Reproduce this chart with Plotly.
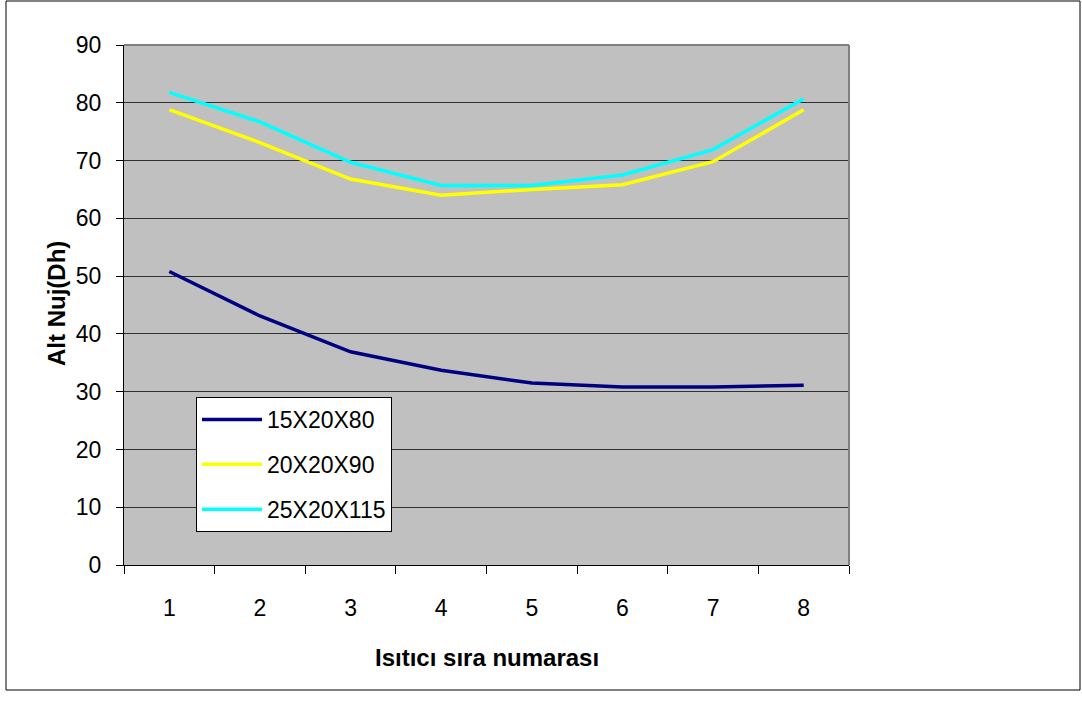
import plotly.graph_objects as go

categories = [1, 2, 3, 4, 5, 6, 7, 8]
s1_name = "15X20X80"
s1 = [50.8, 43.1, 36.9, 33.7, 31.5, 30.8, 30.8, 31.1]
s2_name = "20X20X90"
s2 = [78.8, 73.1, 66.8, 64.0, 65.0, 65.8, 69.8, 78.8]
s3_name = "25X20X115"
s3 = [81.8, 76.7, 69.7, 65.7, 65.7, 67.5, 71.9, 80.7]
y_ticks = [0, 10, 20, 30, 40, 50, 60, 70, 80, 90]

fig = go.Figure()
for name, vals, col in [(s1_name, s1, "#000080"), (s2_name, s2, "#FFFF00"), (s3_name, s3, "#00FFFF")]:
    fig.add_trace(go.Scatter(x=categories, y=vals, mode="lines", name=name,
                             legendgroup=name,
                             line=dict(color=col, width=3.5)))

font = "Liberation Sans, Arial, sans-serif"
L, R, T, B = 124, 233, 45, 137
W, H = 1082, 702
pw, ph = W - L - R, H - T - B

fig.update_layout(
    width=W, height=H,
    margin=dict(l=L, r=R, t=T, b=B),
    paper_bgcolor="white",
    plot_bgcolor="#C0C0C0",
    font=dict(family=font, size=23, color="black"),
    showlegend=True,
    legend=dict(x=(196 - L) / pw, y=(H - B - 397) / ph, xanchor="left", yanchor="top",
                bgcolor="white", bordercolor="black", borderwidth=1,
                font=dict(size=23), tracegroupgap=12, itemwidth=60),
    xaxis=dict(range=[0.5, 8.5], tickvals=categories, ticktext=[str(c) for c in categories],
               showgrid=False, zeroline=False, showline=True, linecolor="black", linewidth=1,
               ticks="outside", ticklen=8, tickcolor="rgba(0,0,0,0)",
               ticklabelstandoff=14,
               minor=dict(tickvals=[c - 0.5 for c in categories] + [8.5], ticks="outside",
                          ticklen=8, tickcolor="black", tickwidth=1, showgrid=False),
               tickfont=dict(size=23)),
    yaxis=dict(range=[0, 90], tickvals=y_ticks, showgrid=True, gridcolor="#303030", gridwidth=1,
               zeroline=False, showline=True, linecolor="black", linewidth=1,
               ticks="outside", ticklen=7, tickcolor="black", ticklabelstandoff=10,
               tickfont=dict(size=23)),
    annotations=[
        dict(text="<b>Isıtıcı sıra numarası</b>", xref="paper", yref="paper",
             x=(487 - L) / pw, y=(H - B - 657) / ph, showarrow=False,
             font=dict(size=24), xanchor="center", yanchor="middle"),
        dict(text="<b>Alt Nuj(Dh)</b>", xref="paper", yref="paper",
             x=(56 - L) / pw, y=(H - B - 304) / ph, showarrow=False, textangle=-90,
             font=dict(size=24), xanchor="center", yanchor="middle"),
    ],
    shapes=[
        dict(type="rect", xref="paper", yref="paper",
             x0=(6 - L) / pw, x1=(1080 - L) / pw, y0=(H - B - 690) / ph, y1=(H - B - 1) / ph,
             line=dict(color="black", width=1), fillcolor="rgba(0,0,0,0)", layer="below"),
        dict(type="line", xref="paper", yref="paper", x0=0, x1=1, y0=1, y1=1,
             line=dict(color="#808080", width=2)),
        dict(type="line", xref="paper", yref="paper", x0=1, x1=1, y0=0, y1=1,
             line=dict(color="#808080", width=2)),
    ],
)

fig.write_html("out.html", config={"displayModeBar": False},
               post_script="document.body.style.margin='0';")
